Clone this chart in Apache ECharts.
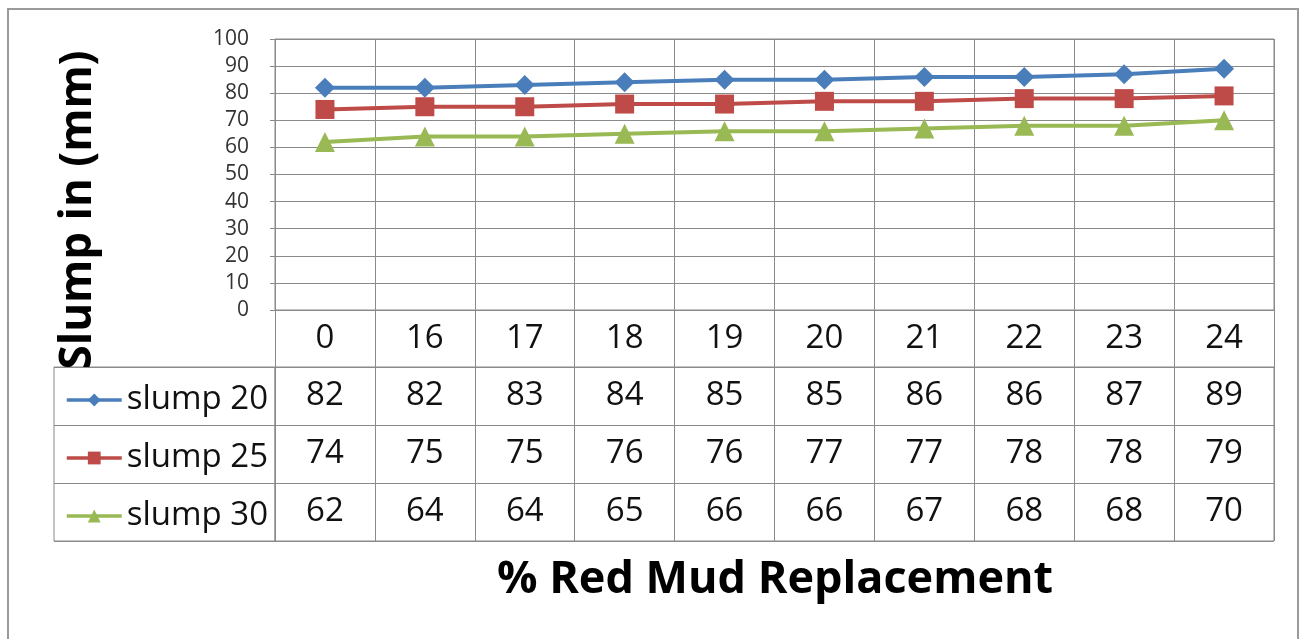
<!DOCTYPE html>
<html>
<head>
<meta charset="utf-8">
<script src="https://cdn.jsdelivr.net/npm/echarts@6/dist/echarts.min.js"></script>
<style>
html,body{margin:0;padding:0;background:#fff;}
#c{width:1304px;height:639px;}
</style>
</head>
<body>
<div id="c"></div>
<script>
var categories = ['0','16','17','18','19','20','21','22','23','24'];
var seriesNames = ['slump 20','slump 25','slump 30'];
var slump20 = [82,82,83,84,85,85,86,86,87,89];
var slump25 = [74,75,75,76,76,77,77,78,78,79];
var slump30 = [62,64,64,65,66,66,67,68,68,70];
var yTicks = [0,10,20,30,40,50,60,70,80,90,100];

var colors = ['#4A7EBB','#BE4B48','#98B954'];
var symbols = ['diamond','rect','triangle'];
var symbolSizes = [20,19,20];
var allSeries = [slump20, slump25, slump30];

var FONT = '"Open Sans", "DejaVu Sans", sans-serif';
var GRID_COLOR = '#8a8a8a';

var chart = echarts.init(document.getElementById('c'), null, {renderer:'canvas'});

var lineSeries = allSeries.map(function(d,i){
  return {
    name: seriesNames[i], type:'line', xAxisIndex:0, yAxisIndex:0,
    data: d, symbol: symbols[i], symbolSize: symbolSizes[i],
    lineStyle:{color:colors[i], width:4},
    itemStyle:{color:colors[i], borderWidth:0},
    z: 5 - i
  };
});

var cellData = [];
allSeries.forEach(function(d,r){
  d.forEach(function(v,c){ cellData.push([c, r, v]); });
});

var option = {
  backgroundColor:'#ffffff',
  animation:false,
  color: colors,
  grid:[
    {left:275, top:39, width:999, height:271, show:true, borderColor:GRID_COLOR, borderWidth:1, containLabel:false},
    {left:275, top:367, width:999, height:174, show:true, borderColor:GRID_COLOR, borderWidth:1},
    {left:54, top:367, width:221, height:174, show:true, borderColor:GRID_COLOR, borderWidth:1}
  ],
  xAxis:[
    {type:'category', gridIndex:0, data:categories, boundaryGap:true,
     axisLine:{show:true, lineStyle:{color:GRID_COLOR}},
     axisTick:{show:true, length:57, alignWithLabel:false, lineStyle:{color:GRID_COLOR}},
     axisLabel:{fontFamily:FONT, fontSize:33, color:'#111', margin:12},
     splitLine:{show:true, lineStyle:{color:GRID_COLOR, width:1}}},
    {type:'category', gridIndex:1, data:categories, boundaryGap:true,
     axisLine:{show:false}, axisTick:{show:false}, axisLabel:{show:false},
     splitLine:{show:true, lineStyle:{color:GRID_COLOR, width:1}}},
    {type:'value', gridIndex:2, show:false}
  ],
  yAxis:[
    {type:'value', gridIndex:0, min:0, max:100, interval:10,
     axisLine:{show:false},
     axisTick:{show:true, length:5, lineStyle:{color:GRID_COLOR}},
     axisLabel:{fontFamily:FONT, fontSize:21, color:'#333', margin:26,
       formatter:function(v){ return yTicks.indexOf(v) >= 0 ? String(v) : ''; }},
     splitLine:{show:true, lineStyle:{color:GRID_COLOR, width:1}}},
    {type:'category', gridIndex:1, data:seriesNames, inverse:true, boundaryGap:true,
     axisLine:{show:false}, axisTick:{show:false}, axisLabel:{show:false},
     splitLine:{show:true, lineStyle:{color:GRID_COLOR, width:1}}},
    {type:'category', gridIndex:2, data:seriesNames, inverse:true, boundaryGap:true,
     axisLine:{show:false}, axisTick:{show:false}, axisLabel:{show:false},
     splitLine:{show:true, lineStyle:{color:GRID_COLOR, width:1}}}
  ],
  legend:{
    data: seriesNames,
    orient:'vertical',
    left:60, top:378,
    itemWidth:55, itemHeight:16,
    itemGap:24,
    lineStyle:{width:3.5},
    textStyle:{fontFamily:FONT, fontSize:33, color:'#111', lineHeight:34, padding:[0,0,0,0]},
    selectedMode:false
  },
  series: lineSeries.concat([
    {type:'scatter', name:'cells', xAxisIndex:1, yAxisIndex:1, data:cellData,
     symbol:'circle', symbolSize:1, silent:true,
     label:{show:true, position:'inside', fontFamily:FONT, fontSize:33, color:'#111', opacity:1,
       formatter:function(p){ return String(p.value[2]); }},
     itemStyle:{color:'#ffffff', opacity:1}}
  ]),
  graphic:[
    {type:'rect', shape:{x:8, y:9, width:1290, height:640}, style:{fill:'none', stroke:'#9a9a9a', lineWidth:2}, silent:true, z:-1},
    {type:'text', x:78, y:210, rotation:Math.PI/2,
     style:{text:'Slump in (mm)', fontFamily:FONT, fontWeight:'bold', fontSize:44, fill:'#000', align:'center', verticalAlign:'middle'}},
    {type:'text', x:775, y:580,
     style:{text:'% Red Mud Replacement', fontFamily:FONT, fontWeight:'bold', fontSize:45, fill:'#000', align:'center', verticalAlign:'middle'}}
  ]
};
chart.setOption(option);
</script>
</body>
</html>
